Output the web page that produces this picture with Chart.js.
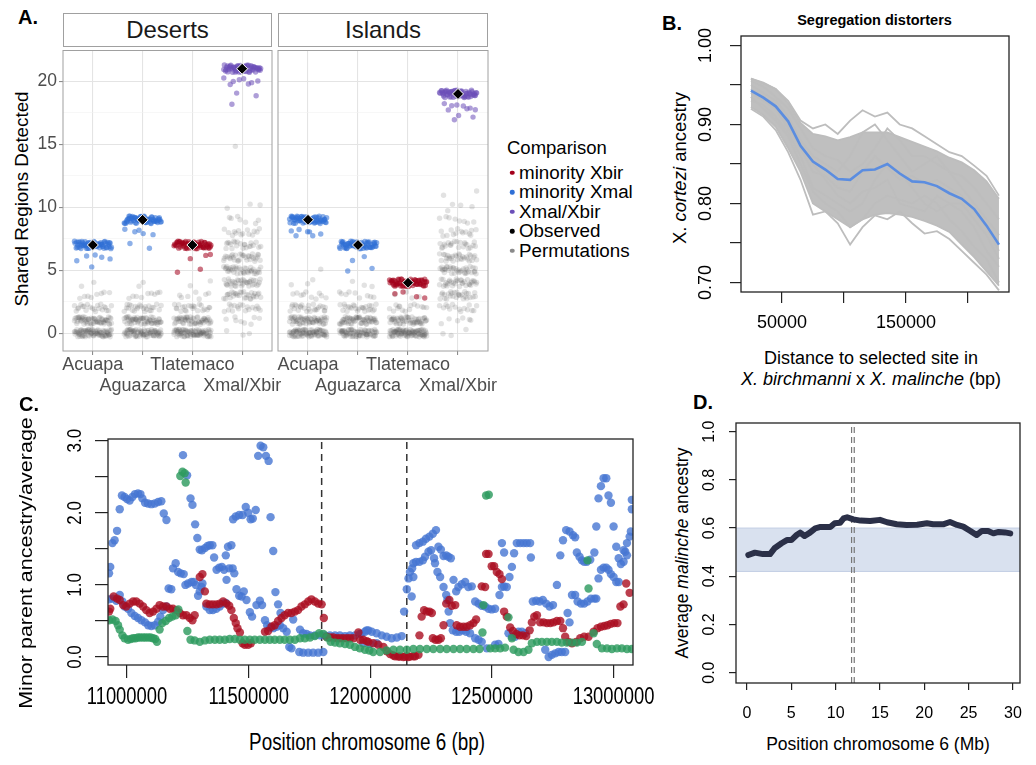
<!DOCTYPE html>
<html>
<head>
<meta charset="utf-8">
<title>Shared regions and segregation distorters</title>
<script src="https://cdn.jsdelivr.net/npm/chart.js@4.4.1/dist/chart.umd.min.js"></script>
<style>
  html, body { margin: 0; padding: 0; background: #fff; }
  body { position: relative; width: 1036px; height: 765px; overflow: hidden;
         font-family: 'Liberation Sans', Arial, Helvetica, sans-serif; color: #000; }
  canvas { position: absolute; }
  .txt { position: absolute; white-space: nowrap; line-height: 1; }
  .mid { transform: translate(-50%, -50%); }
  .lft { transform: translate(0, -50%); }
  .rot { transform: translate(-50%, -50%) rotate(-90deg); }
  .tag { font-weight: bold; font-size: 20px; }
  .strip { position: absolute; box-sizing: border-box; border: 1px solid #a0a0a0; background: #fff; }
  .dot { position: absolute; width: 4.5px; height: 4.5px; border-radius: 50%; transform: translate(-50%, -50%); }
</style>
</head>
<body>

<!-- panel A -->
<div class="txt lft tag" style="left:18px;top:17px">A.</div>
<div class="strip" style="left:63px;top:13px;width:209px;height:34px"></div>
<div class="strip" style="left:278px;top:13px;width:210px;height:34px"></div>
<div class="txt mid" style="left:167.5px;top:30px;font-size:24px;color:#1a1a1a">Deserts</div>
<div class="txt mid" style="left:383px;top:30px;font-size:24px;color:#1a1a1a">Islands</div>
<div class="txt rot" style="left:22px;top:198.5px;font-size:18.8px">Shared Regions Detected</div>
<div id="legend"></div>
<canvas id="aDeserts" width="294" height="352" style="left:0;top:44px"></canvas>
<canvas id="aIslands" width="254" height="352" style="left:256px;top:44px"></canvas>

<!-- panel B -->
<div class="txt lft tag" style="left:662px;top:23px">B.</div>
<div class="txt mid" style="left:874.5px;top:19.5px;font-size:14.5px;font-weight:bold">Segregation distorters</div>
<div class="txt rot" style="left:680px;top:168px;font-size:18.5px">X. <i>cortezi</i> ancestry</div>
<div class="txt mid" style="left:871px;top:358px;font-size:18px">Distance to selected site in</div>
<div class="txt mid" style="left:871px;top:379px;font-size:18px"><i>X. birchmanni</i> x <i>X. malinche</i> (bp)</div>
<canvas id="bChart" width="315" height="317" style="left:696px;top:20px"></canvas>

<!-- panel C -->
<div class="txt lft tag" style="left:19px;top:404px">C.</div>
<div class="txt" style="left:27px;top:563px;font-size:21.5px;transform:translate(-50%,-50%) rotate(-90deg) scaleY(0.82)">Minor parent ancestry/average</div>
<div class="txt" style="left:367px;top:742px;font-size:23px;transform:translate(-50%,-50%) scaleX(0.82)">Position chromosome 6 (bp)</div>
<canvas id="cChart" width="609" height="292" style="left:48px;top:423px"></canvas>

<!-- panel D -->
<div class="txt lft tag" style="left:693px;top:402px">D.</div>
<div class="txt rot" style="left:683px;top:553px;font-size:17.5px">Average <i>malinche</i> ancestry</div>
<div class="txt mid" style="left:878px;top:745px;font-size:17.5px">Position chromosome 6 (Mb)</div>
<canvas id="dChart" width="326" height="317" style="left:696px;top:411px"></canvas>

<script>
// ---------- A: shared regions ----------
const aCategories = ['Acuapa', 'Aguazarca', 'Tlatemaco', 'Xmal/Xbir'];
const aComparison = ['minority Xmal', 'minority Xmal', 'minority Xbir', 'Xmal/Xbir'];
const desertsObserved = [7, 9, 7, 21];
const islandsObserved = [9, 7, 4, 19];
// [regions detected, number of replicates]
const desertsReplicates = [
  [[7, 60], [6, 5], [5, 1]],
  [[9, 60], [8, 5], [7, 2]],
  [[7, 60], [6, 3], [5, 2]],
  [[21, 60], [20, 8], [19, 2], [18, 1]]
];
const islandsReplicates = [
  [[9, 60], [8, 7]],
  [[7, 60], [6, 2], [5, 2]],
  [[4, 60], [3, 4]],
  [[19, 60], [18, 8], [17, 3]]
];
const desertsPermutations = [
  [[0, 80], [1, 60], [2, 22], [3, 8], [4, 2]],
  [[0, 75], [1, 60], [2, 25], [3, 9], [4, 2]],
  [[0, 80], [1, 55], [2, 22], [3, 7], [4, 2]],
  [[0, 3], [1, 8], [2, 18], [3, 30], [4, 36], [5, 38], [6, 32], [7, 22], [8, 14], [9, 7], [10, 3], [15, 1]]
];
const islandsPermutations = [
  [[0, 80], [1, 60], [2, 25], [3, 10], [4, 3], [5, 1]],
  [[0, 75], [1, 60], [2, 25], [3, 9], [4, 3]],
  [[0, 90], [1, 55], [2, 15], [3, 4]],
  [[0, 3], [1, 6], [2, 15], [3, 28], [4, 34], [5, 36], [6, 30], [7, 22], [8, 14], [9, 8], [10, 4], [11, 2]]
];
// hand-typed jitter offsets (fraction of the jitter width)
const jitterX = [0.12, -0.85, 0.47, -0.33, 0.91, -0.06, 0.64, -0.72, 0.28, -0.51,
  0.79, -0.19, 0.03, -0.94, 0.55, -0.41, 0.36, -0.67, 0.86, -0.24,
  0.18, -0.58, 0.71, -0.11, 0.95, -0.79, 0.42, -0.36, 0.60, -0.02,
  0.25, -0.88, 0.67, -0.47, 0.08, -0.63, 0.83, -0.15, 0.50, -0.97,
  0.33, -0.29, 0.74, -0.54, 0.14, -0.76, 0.98, -0.44, 0.59, -0.09,
  0.21, -0.69, 0.45, -0.26, 0.88, -0.60, 0.05, -0.82, 0.38, -0.38];
const jitterY = [-0.42, 0.77, 0.15, -0.90, 0.53, -0.18, 0.96, -0.61, 0.30, -0.05,
  0.68, -0.83, 0.09, 0.44, -0.35, 0.87, -0.71, 0.22, -0.49, 0.61,
  -0.12, 0.92, -0.66, 0.37, -0.97, 0.02, 0.58, -0.28, 0.81, -0.54,
  0.26, -0.79, 0.49, -0.23, 0.73, -0.94, 0.11, 0.65, -0.40, 0.99,
  -0.07, 0.33, -0.74, 0.56, -0.31, 0.84, -0.59, 0.19, -0.87, 0.40];
const aXTicks = [1, 2, 3, 4];
const aYTicks = [0, 2.5, 5, 7.5, 10, 12.5, 15, 17.5, 20];
const legendLabels = ['minority Xbir', 'minority Xmal', 'Xmal/Xbir', 'Observed', 'Permutations'];
const legendColors = ['#a3001b', '#2f6fd6', '#6b4fb8', '#000000', '#8a8a8a'];

// ---------- B: segregation distorters ----------
const bDistance = [25000, 35000, 45000, 55000, 65000, 75000, 85000, 95000, 105000, 115000, 125000,
  135000, 145000, 155000, 165000, 175000, 185000, 195000, 205000, 215000, 225000];
const bObserved = [0.943, 0.934, 0.923, 0.904, 0.873, 0.853, 0.843, 0.831, 0.830, 0.842, 0.843,
  0.850, 0.838, 0.828, 0.827, 0.822, 0.813, 0.806, 0.793, 0.772, 0.748];
const bPermHigh = [0.958, 0.953, 0.945, 0.927, 0.902, 0.888, 0.885, 0.880, 0.884, 0.890, 0.890,
  0.890, 0.884, 0.878, 0.872, 0.866, 0.858, 0.852, 0.842, 0.828, 0.806];
const bPermLow = [0.922, 0.912, 0.897, 0.870, 0.840, 0.800, 0.790, 0.780, 0.770, 0.780, 0.786,
  0.788, 0.786, 0.783, 0.778, 0.772, 0.764, 0.748, 0.732, 0.714, 0.696];
const bPermutations = [
  [0.958, 0.952, 0.945, 0.930, 0.905, 0.895, 0.900, 0.888, 0.905, 0.918, 0.910, 0.915, 0.900, 0.895, 0.885, 0.875, 0.865, 0.860, 0.848, 0.835, 0.810],
  [0.920, 0.910, 0.893, 0.865, 0.830, 0.786, 0.790, 0.775, 0.748, 0.770, 0.785, 0.780, 0.790, 0.775, 0.762, 0.765, 0.755, 0.740, 0.725, 0.710, 0.690],
  [0.950, 0.940, 0.930, 0.910, 0.880, 0.860, 0.850, 0.840, 0.860, 0.890, 0.900, 0.880, 0.860, 0.840, 0.850, 0.860, 0.840, 0.820, 0.800, 0.780, 0.760],
  [0.930, 0.925, 0.910, 0.890, 0.860, 0.820, 0.810, 0.800, 0.790, 0.800, 0.830, 0.850, 0.840, 0.820, 0.800, 0.790, 0.800, 0.790, 0.770, 0.740, 0.720],
  [0.945, 0.935, 0.925, 0.900, 0.870, 0.840, 0.835, 0.820, 0.815, 0.840, 0.860, 0.845, 0.830, 0.835, 0.825, 0.830, 0.820, 0.810, 0.790, 0.770, 0.740],
  [0.955, 0.948, 0.935, 0.920, 0.895, 0.870, 0.860, 0.855, 0.840, 0.850, 0.870, 0.895, 0.880, 0.860, 0.860, 0.850, 0.840, 0.835, 0.820, 0.800, 0.780],
  [0.935, 0.920, 0.905, 0.885, 0.850, 0.815, 0.800, 0.790, 0.770, 0.780, 0.800, 0.810, 0.805, 0.800, 0.810, 0.800, 0.780, 0.765, 0.745, 0.730, 0.700],
  [0.940, 0.930, 0.920, 0.895, 0.875, 0.850, 0.830, 0.810, 0.800, 0.815, 0.820, 0.830, 0.800, 0.795, 0.790, 0.810, 0.800, 0.800, 0.780, 0.760, 0.730]
];
const bXTicks = [50000, 100000, 150000, 200000];
const bXLabelled = [50000, 150000];
const bYTicks = [0.70, 0.75, 0.80, 0.85, 0.90, 0.95, 1.00];
const bYLabelled = [0.70, 0.80, 0.90, 1.00];

// ---------- C: minor parent ancestry (position in kb, ratio) ----------
const cXmal = [
  [10926, 1.16], [10926, 0.80], [10931, 1.25], [10940, 1.58], [10940, 0.81], [10949, 1.62], [10956, 0.78], [10959, 1.75],
  [10970, 2.05], [10970, 0.86], [10979, 2.24], [10981, 0.77], [10990, 2.22], [10990, 0.70], [11000, 2.19], [11004, 0.67],
  [11011, 2.17], [11018, 0.61], [11022, 2.22], [11032, 0.57], [11033, 2.26], [11045, 2.27], [11045, 0.54], [11055, 2.26],
  [11059, 0.51], [11063, 2.20], [11074, 2.14], [11074, 0.48], [11086, 2.13], [11087, 0.44], [11100, 2.12], [11100, 0.43],
  [11114, 2.13], [11114, 0.44], [11128, 2.15], [11128, 0.49], [11137, 0.56], [11141, 2.16], [11148, 0.65], [11151, 1.99],
  [11162, 1.90], [11162, 0.70], [11171, 0.95], [11182, 0.94], [11189, 1.23], [11200, 1.30], [11210, 1.18], [11221, 1.16],
  [11230, 2.80], [11233, 1.15], [11240, 1.00], [11247, 2.52], [11251, 1.02], [11261, 2.20], [11265, 1.04], [11269, 2.11],
  [11274, 1.04], [11280, 1.84], [11283, 1.00], [11289, 1.65], [11292, 0.85], [11299, 1.49], [11299, 0.91], [11306, 0.97],
  [11308, 1.48], [11310, 1.02], [11320, 1.51], [11326, 0.70], [11331, 1.54], [11340, 1.55], [11340, 0.65], [11351, 1.55],
  [11353, 0.65], [11358, 1.38], [11367, 0.67], [11368, 1.21], [11379, 1.24], [11381, 0.70], [11390, 1.25], [11395, 0.74],
  [11399, 1.21], [11406, 1.41], [11406, 0.75], [11409, 1.07], [11415, 1.53], [11420, 1.23], [11429, 1.55], [11434, 1.23],
  [11436, 1.91], [11441, 1.16], [11447, 1.95], [11450, 0.94], [11461, 1.97], [11461, 0.85], [11471, 0.84], [11475, 1.97],
  [11480, 0.91], [11488, 2.08], [11491, 0.79], [11498, 2.00], [11505, 0.62], [11508, 1.91], [11514, 0.56], [11517, 1.92],
  [11529, 2.04], [11532, 0.72], [11539, 2.79], [11546, 0.78], [11549, 2.93], [11555, 0.72], [11560, 2.91], [11567, 0.51],
  [11571, 2.79], [11576, 0.44], [11582, 2.72], [11587, 0.41], [11590, 1.94], [11601, 1.47], [11601, 0.40], [11610, 0.90],
  [11615, 0.42], [11621, 0.73], [11628, 0.44], [11631, 0.61], [11642, 0.40], [11656, 0.35], [11667, 0.14], [11676, 0.12],
  [11683, 0.52], [11708, 0.07], [11711, 0.38], [11724, 0.33], [11724, 0.06], [11738, 0.32], [11745, 0.06], [11752, 0.30],
  [11765, 0.06], [11772, 0.30], [11786, 0.06], [11793, 0.30], [11807, 0.07], [11813, 0.30], [11834, 0.30], [11855, 0.30],
  [11875, 0.30], [11896, 0.29], [11916, 0.30], [11937, 0.30], [11957, 0.32], [11964, 0.32], [11971, 0.19], [11978, 0.35],
  [11985, 0.37], [11992, 0.37], [11999, 0.18], [12006, 0.35], [12026, 0.33], [12026, 0.19], [12047, 0.30], [12067, 0.28],
  [12088, 0.26], [12109, 0.27], [12129, 0.29], [12139, 0.63], [12150, 0.94], [12157, 1.09], [12163, 1.18], [12170, 0.84],
  [12172, 1.23], [12177, 1.11], [12177, 1.30], [12188, 1.32], [12188, 1.55], [12202, 1.32], [12202, 1.58], [12216, 1.34],
  [12216, 1.60], [12225, 1.39], [12229, 1.64], [12239, 1.46], [12243, 1.67], [12250, 1.48], [12257, 1.71], [12262, 1.37],
  [12266, 1.30], [12270, 1.76], [12276, 1.18], [12280, 1.53], [12287, 1.11], [12290, 1.49], [12301, 0.97], [12301, 1.40],
  [12312, 0.86], [12312, 1.41], [12317, 0.79], [12321, 1.39], [12322, 0.63], [12328, 0.47], [12331, 1.37], [12339, 0.37],
  [12342, 1.07], [12353, 0.91], [12353, 0.35], [12362, 0.97], [12366, 0.35], [12376, 1.01], [12380, 0.37], [12390, 1.04],
  [12394, 0.35], [12403, 0.97], [12410, 0.33], [12417, 0.98], [12431, 0.26], [12431, 0.77], [12445, 0.24], [12445, 0.74],
  [12458, 0.21], [12458, 0.71], [12472, 0.70], [12479, 0.12], [12486, 0.67], [12499, 0.66], [12513, 0.67], [12513, 0.17],
  [12527, 0.18], [12531, 0.86], [12541, 0.97], [12541, 1.58], [12550, 0.98], [12550, 1.45], [12561, 0.97], [12568, 0.33],
  [12572, 1.11], [12582, 1.25], [12582, 0.28], [12591, 1.44], [12595, 0.28], [12602, 1.58], [12609, 0.35], [12616, 1.58],
  [12623, 0.35], [12630, 1.58], [12637, 0.33], [12643, 1.58], [12657, 1.58], [12660, 1.38], [12668, 0.77], [12682, 0.78],
  [12696, 0.77], [12709, 0.79], [12719, 0.10], [12723, 0.74], [12733, 0.00], [12737, 0.70], [12746, 0.03], [12751, 0.72],
  [12760, 0.05], [12767, 1.00], [12774, 0.07], [12781, 1.41], [12787, 0.07], [12792, 1.62], [12801, 0.07], [12805, 1.76],
  [12811, 0.61], [12819, 1.74], [12819, 0.48], [12829, 0.86], [12833, 1.69], [12842, 1.66], [12842, 0.86], [12849, 1.45],
  [12852, 0.77], [12860, 1.39], [12866, 0.74], [12870, 1.34], [12879, 1.32], [12879, 0.74], [12890, 1.32], [12893, 0.77],
  [12904, 1.35], [12907, 0.81], [12921, 0.81], [12921, 1.45], [12929, 1.81], [12929, 0.81], [12938, 2.20], [12938, 1.09],
  [12948, 2.37], [12948, 1.21], [12959, 2.48], [12959, 1.24], [12970, 2.48], [12970, 1.24], [12979, 2.24], [12979, 1.21],
  [12989, 2.14], [12989, 1.15], [13000, 1.81], [13000, 1.11], [13011, 1.53], [13011, 1.04], [13021, 1.37], [13021, 1.04],
  [13030, 1.29], [13041, 1.32], [13041, 1.48], [13048, 1.46], [13055, 1.58], [13055, 1.41], [13066, 1.67], [13071, 1.74],
  [13075, 2.05], [13075, 2.18]
];
const cXbir = [
  [10926, 0.63], [10931, 0.67], [10945, 0.84], [10959, 0.81], [10970, 0.79], [10984, 0.72], [10997, 0.70], [11011, 0.74],
  [11025, 0.77], [11038, 0.77], [11052, 0.74], [11066, 0.70], [11079, 0.65], [11093, 0.61], [11107, 0.63], [11121, 0.67],
  [11134, 0.72], [11148, 0.70], [11162, 0.70], [11176, 0.67], [11189, 0.67], [11203, 0.65], [11217, 0.61], [11230, 0.58],
  [11244, 0.58], [11258, 0.54], [11269, 0.51], [11278, 0.58], [11299, 1.11], [11310, 1.15], [11320, 0.91], [11326, 0.74],
  [11340, 0.73], [11353, 0.73], [11367, 0.73], [11381, 0.74], [11395, 0.77], [11409, 0.74], [11420, 0.71], [11429, 0.65],
  [11439, 0.54], [11447, 0.47], [11454, 0.40], [11464, 0.34], [11475, 0.19], [11484, 0.17], [11498, 0.17], [11509, 0.19],
  [11567, 0.35], [11580, 0.36], [11594, 0.42], [11607, 0.44], [11621, 0.50], [11635, 0.54], [11648, 0.58], [11662, 0.61],
  [11676, 0.61], [11690, 0.63], [11703, 0.65], [11717, 0.70], [11731, 0.73], [11745, 0.77], [11758, 0.80], [11772, 0.77],
  [11786, 0.74], [11800, 0.73], [11809, 0.54], [11820, 0.28], [11834, 0.27], [11848, 0.27], [11862, 0.26], [11875, 0.26],
  [11889, 0.26], [11903, 0.26], [11916, 0.26], [11930, 0.26], [11951, 0.34], [11958, 0.24], [11971, 0.24], [11985, 0.22],
  [11992, 0.21], [12012, 0.19], [12033, 0.17], [12054, 0.14], [12068, 0.08], [12081, 0.04], [12095, 0.02], [12102, 0.01],
  [12115, 0.005], [12122, 0.005], [12136, 0.0], [12143, 0.005], [12156, 0.0], [12163, 0.005], [12177, 0.01], [12184, 0.01],
  [12198, 0.03], [12202, 0.30], [12211, 0.56], [12221, 0.65], [12232, 0.63], [12243, 0.63], [12253, 0.61], [12257, 0.26],
  [12268, 0.24], [12280, 0.24], [12290, 0.26], [12301, 0.44], [12312, 0.74], [12325, 0.79], [12335, 0.71], [12349, 0.72],
  [12355, 0.44], [12369, 0.42], [12383, 0.42], [12396, 0.42], [12410, 0.44], [12424, 0.47], [12435, 0.52], [12458, 0.98],
  [12472, 0.97], [12476, 1.43], [12486, 1.43], [12499, 1.26], [12509, 1.26], [12520, 1.18], [12531, 1.15], [12541, 1.08],
  [12550, 0.63], [12561, 0.56], [12575, 0.41], [12586, 0.36], [12600, 0.32], [12613, 0.30], [12627, 0.30], [12641, 0.29],
  [12655, 0.37], [12664, 0.48], [12674, 0.56], [12685, 0.58], [12698, 0.48], [12712, 0.48], [12726, 0.47], [12740, 0.47],
  [12753, 0.48], [12767, 0.50], [12781, 0.50], [12792, 0.40], [12801, 0.28], [12815, 0.21], [12829, 0.19], [12846, 0.21],
  [12863, 0.26], [12879, 0.28], [12897, 0.28], [12918, 0.35], [12934, 0.40], [12948, 0.42], [12962, 0.43], [12975, 0.44],
  [12989, 0.46], [13003, 0.47], [13016, 0.47], [13028, 0.70], [13041, 0.73], [13052, 1.02], [13066, 0.89]
];
const cCortezi = [
  [10926, 0.51], [10940, 0.52], [10953, 0.50], [10963, 0.44], [10970, 0.38], [10981, 0.30], [10990, 0.26], [11004, 0.24],
  [11015, 0.25], [11025, 0.26], [11035, 0.26], [11045, 0.27], [11055, 0.27], [11066, 0.27], [11076, 0.27], [11087, 0.27],
  [11097, 0.27], [11107, 0.26], [11116, 0.25], [11123, 0.21], [11134, 0.38], [11145, 0.47], [11159, 0.50], [11173, 0.54],
  [11186, 0.56], [11200, 0.58], [11211, 0.66], [11219, 2.51], [11228, 2.57], [11237, 2.55], [11241, 2.42], [11248, 0.36],
  [11261, 0.24], [11278, 0.23], [11299, 0.21], [11320, 0.23], [11340, 0.24], [11361, 0.24], [11381, 0.24], [11402, 0.24],
  [11422, 0.25], [11443, 0.25], [11464, 0.24], [11484, 0.24], [11505, 0.24], [11525, 0.24], [11546, 0.24], [11567, 0.24],
  [11587, 0.24], [11607, 0.24], [11628, 0.24], [11648, 0.24], [11669, 0.24], [11690, 0.24], [11711, 0.26], [11731, 0.26],
  [11752, 0.27], [11772, 0.29], [11790, 0.33], [11807, 0.32], [11823, 0.27], [11837, 0.21], [11855, 0.20], [11875, 0.19],
  [11896, 0.18], [11916, 0.17], [11937, 0.14], [11957, 0.12], [11978, 0.10], [11996, 0.09], [12012, 0.07], [12040, 0.07],
  [12067, 0.09], [12095, 0.10], [12122, 0.10], [12150, 0.10], [12177, 0.11], [12204, 0.11], [12232, 0.11], [12259, 0.11],
  [12287, 0.11], [12314, 0.11], [12342, 0.11], [12369, 0.11], [12396, 0.11], [12424, 0.11], [12449, 0.11], [12461, 0.34],
  [12465, 0.72], [12476, 2.24], [12487, 2.25], [12493, 0.12], [12513, 0.12], [12534, 0.12], [12554, 0.13], [12568, 0.55],
  [12582, 0.26], [12589, 0.10], [12609, 0.07], [12630, 0.07], [12650, 0.10], [12664, 0.19], [12685, 0.21], [12705, 0.21],
  [12726, 0.21], [12746, 0.21], [12767, 0.21], [12787, 0.20], [12808, 0.20], [12829, 0.20], [12849, 0.20], [12870, 0.21],
  [12893, 1.34], [12897, 0.95], [12918, 0.33], [12931, 0.18], [12952, 0.12], [12973, 0.12], [12993, 0.11], [13014, 0.12],
  [13034, 0.12], [13055, 0.11], [13075, 0.11]
];
const cRegionKb = [11800, 12150];
const cXTicks = [11000, 11500, 12000, 12500, 13000];
const cYTicks = [0, 0.5, 1, 1.5, 2, 2.5, 3];
const cYLabelled = [0, 1, 2, 3];

// ---------- D: average malinche ancestry along chromosome 6 ----------
const dPosition = [0.15, 0.9, 1.8, 2.6, 3.1, 3.9, 4.5, 5.0, 5.6, 6.0, 6.5, 7.1, 7.7, 8.2, 8.8, 9.4, 9.9, 10.5, 10.9, 11.3,
  12.0, 12.8, 13.9, 15.0, 15.8, 16.9, 18.0, 19.2, 20.3, 21.0, 22.2, 22.9, 23.7, 24.4, 25.2, 25.9, 26.5, 27.2, 27.8, 28.4,
  29.1, 29.7];
const dAncestry = [0.488, 0.498, 0.492, 0.492, 0.516, 0.537, 0.550, 0.550, 0.571, 0.581, 0.567, 0.581, 0.599, 0.604, 0.604,
  0.604, 0.620, 0.622, 0.640, 0.645, 0.636, 0.631, 0.629, 0.634, 0.624, 0.616, 0.613, 0.614, 0.620, 0.616, 0.616, 0.625,
  0.613, 0.606, 0.588, 0.571, 0.588, 0.588, 0.578, 0.584, 0.582, 0.578];
const dGenomeRange = [0.42, 0.60];
const dRegionMb = [11.8, 12.1];
const dXTicks = [0, 5, 10, 15, 20, 25, 30];
const dYTicks = [0, 0.2, 0.4, 0.6, 0.8, 1.0];

// axis limits
const aXRange = [0.4, 4.6], aYRange = [-1.42, 22.45];
const bXRange = [17000, 233100], bYRange = [0.688, 1.012];
const cXRange = [10921.8, 13079.8], cYRange = [-0.111, 3.024];
const dXRange = [-1.24, 30.8], dYRange = [-0.043, 1.036];

const SANS = "'Liberation Sans', Arial, sans-serif";
Chart.defaults.font.family = SANS;
Chart.defaults.color = '#000';

// fixes the axis box so the plot area lands where the figure has it
function fixSize(w, h) {
  return function (s) {
    if (w !== null) s.width = w;
    if (h !== null) s.height = h;
    s.paddingLeft = s.paddingRight = s.paddingTop = s.paddingBottom = 0;
  };
}
const setTicks = values => s => { s.ticks = values.map(v => ({ value: v })); };
const near = (list, v) => list.some(t => Math.abs(t - v) < 1e-9);

// box around the plotting region
const framePlugin = {
  id: 'frame',
  afterDraw(chart, args, opts) {
    const a = chart.chartArea, ctx = chart.ctx;
    ctx.save();
    ctx.strokeStyle = opts.color;
    ctx.lineWidth = opts.width;
    ctx.strokeRect(a.left, a.top, a.right - a.left, a.bottom - a.top);
    ctx.restore();
  }
};

// base R style tick text: y labels parallel to the axis, x labels optionally squeezed
const tickText = {
  id: 'tickText',
  afterDraw(chart, args, opts) {
    const ctx = chart.ctx, area = chart.chartArea;
    ctx.save();
    ctx.fillStyle = '#000';
    ctx.textAlign = 'center';
    ctx.textBaseline = 'middle';
    if (opts.yFont) {
      const s = chart.scales.y;
      ctx.font = opts.yFont;
      s.ticks.forEach((t, i) => {
        if (!t.label) return;
        ctx.save();
        ctx.translate(area.left - opts.yOffset, s.getPixelForTick(i));
        ctx.rotate(-Math.PI / 2);
        ctx.scale(1, opts.yScale || 1);
        ctx.fillText(t.label, 0, 0);
        ctx.restore();
      });
    }
    if (opts.xFont) {
      const s = chart.scales.x;
      ctx.font = opts.xFont;
      s.ticks.forEach((t, i) => {
        if (!t.label) return;
        ctx.save();
        ctx.translate(s.getPixelForTick(i), area.bottom + opts.xOffset);
        ctx.scale(opts.xScale || 1, 1);
        ctx.fillText(t.label, 0, 0);
        ctx.restore();
      });
    }
    ctx.restore();
  }
};

function baseOptions(scales, plugins, padTop, padRight) {
  return {
    responsive: false,
    animation: false,
    events: [],
    layout: { padding: { top: padTop, right: padRight || 2, left: 0, bottom: 0 } },
    scales: scales,
    plugins: Object.assign({ legend: { display: false }, tooltip: { enabled: false } }, plugins)
  };
}

function rAxis(range, ticks, w, h, tick, pad, font, label, hideText) {
  return {
    type: 'linear', min: range[0], max: range[1],
    afterFit: fixSize(w, h),
    afterBuildTicks: setTicks(ticks),
    border: { display: false },
    grid: { drawOnChartArea: false, drawTicks: true, tickLength: tick, tickColor: '#222', lineWidth: 1.2 },
    ticks: {
      autoSkip: false, maxRotation: 0, minRotation: 0,
      padding: pad, font: font, color: hideText ? 'rgba(0,0,0,0)' : '#000', callback: label
    }
  };
}

// ---------- panel A ----------
function jitter(counts, c, shift) {
  const pts = [];
  let i = 0;
  counts.forEach(([v, n]) => {
    for (let k = 0; k < n; k++, i++) {
      pts.push({
        x: c + 1 + jitterX[(i + shift) % jitterX.length] * 0.38,
        y: v + jitterY[(i + shift * 3) % jitterY.length] * 0.3
      });
    }
  });
  return pts;
}

const compColors = {
  'minority Xbir': 'rgba(163,0,27,0.55)',
  'minority Xmal': 'rgba(47,111,214,0.55)',
  'Xmal/Xbir': 'rgba(107,79,184,0.55)'
};

function facetChart(id, observed, replicates, permutations, leftPanel, shift) {
  const datasets = [{
    data: observed.map((v, i) => ({ x: i + 1, y: v })),
    pointStyle: 'rectRot', pointRadius: 5.5, backgroundColor: '#000', borderColor: '#fff', borderWidth: 1
  }];
  replicates.forEach((counts, c) => {
    datasets.push({
      data: jitter(counts, c, c * 11 + shift),
      pointRadius: 2.7, borderWidth: 0, backgroundColor: compColors[aComparison[c]]
    });
  });
  const perm = [];
  permutations.forEach((counts, c) => perm.push(...jitter(counts, c, c * 17 + shift + 5)));
  datasets.push({ data: perm, pointRadius: 2.7, borderWidth: 0, backgroundColor: 'rgba(85,85,85,0.17)' });

  const major = v => v % 5 === 0;
  const scales = {
    x: {
      type: 'linear', min: aXRange[0], max: aXRange[1],
      afterFit: fixSize(null, 45),
      afterBuildTicks: setTicks(aXTicks),
      border: { display: false },
      grid: { color: '#e4e4e4', lineWidth: 1.1, tickLength: 4, tickColor: '#8c8c8c' },
      ticks: {
        autoSkip: false, maxRotation: 0, minRotation: 0, padding: 0,
        color: '#4d4d4d', font: { size: 18, lineHeight: 1.15 },
        callback: (v, i) => i % 2 === 0 ? aCategories[v - 1] : ['', aCategories[v - 1]]
      }
    },
    y: {
      type: 'linear', min: aYRange[0], max: aYRange[1],
      afterFit: fixSize(leftPanel ? 63 : 22, null),
      afterBuildTicks: setTicks(aYTicks),
      border: { display: false },
      grid: {
        color: c => major(c.tick.value) ? '#e4e4e4' : '#f2f2f2',
        lineWidth: c => major(c.tick.value) ? 1.1 : 0.6,
        drawTicks: leftPanel, tickLength: 4,
        tickColor: c => major(c.tick.value) ? '#8c8c8c' : 'rgba(0,0,0,0)'
      },
      ticks: {
        display: leftPanel, padding: 2,
        color: '#4d4d4d', font: { size: 17.5 },
        callback: v => major(v) ? String(v) : ''
      }
    }
  };
  const opts = baseOptions(scales, { frame: { color: '#a0a0a0', width: 1 } }, 2, 22);
  new Chart(document.getElementById(id), {
    type: 'scatter', data: { datasets }, options: opts, plugins: [framePlugin]
  });
}

facetChart('aDeserts', desertsObserved, desertsReplicates, desertsPermutations, true, 0);
facetChart('aIslands', islandsObserved, islandsReplicates, islandsPermutations, false, 29);

// legend of panel A
(function () {
  let html = '<div class="txt lft" style="left:507px;top:148px;font-size:18.5px">Comparison</div>';
  legendLabels.forEach((lab, i) => {
    const y = 172.7 + i * 19.5;
    html += '<div class="dot" style="left:512px;top:' + y + 'px;background:' + legendColors[i] + '"></div>';
    html += '<div class="txt lft" style="left:519px;top:' + y + 'px;font-size:18.8px">' + lab + '</div>';
  });
  document.getElementById('legend').innerHTML = html;
})();

// ---------- panel B ----------
(function () {
  const toXY = ys => ys.map((y, i) => ({ x: bDistance[i], y: y }));
  const datasets = [{
    data: toXY(bObserved), showLine: true, borderColor: '#5b8de0', borderWidth: 2.6, pointRadius: 0
  }];
  bPermutations.forEach(p => datasets.push({
    data: toXY(p), showLine: true, borderColor: '#bdbdbd', borderWidth: 1.8, pointRadius: 0
  }));
  datasets.push({ data: toXY(bPermLow), showLine: true, borderColor: '#bdbdbd', borderWidth: 1.8, pointRadius: 0 });
  datasets.push({
    data: toXY(bPermHigh), showLine: true, borderColor: '#bdbdbd', borderWidth: 1.8, pointRadius: 0,
    fill: '-1', backgroundColor: '#bfbfbf'
  });
  const scales = {
    x: rAxis(bXRange, bXTicks, null, 45, 11, 9, { size: 18 },
      v => near(bXLabelled, v) ? String(v) : ''),
    y: rAxis(bYRange, bYTicks, 45, null, 11, 0, { size: 18 },
      v => near(bYLabelled, v) ? v.toFixed(2) : '', true)
  };
  new Chart(document.getElementById('bChart'), {
    type: 'scatter', data: { datasets },
    options: baseOptions(scales, {
      frame: { color: '#222', width: 1.3 },
      tickText: { yFont: '18px ' + SANS, yOffset: 35 }
    }, 16),
    plugins: [framePlugin, tickText]
  });
})();

// ---------- panel C ----------
(function () {
  const pts = arr => arr.map(p => ({ x: p[0], y: p[1] }));
  const dashed = cRegionKb.map(x => ({
    data: [{ x: x, y: cYRange[0] }, { x: x, y: cYRange[1] }], showLine: true,
    borderColor: '#333', borderWidth: 1.5, borderDash: [7, 5], pointRadius: 0
  }));
  const datasets = [
    { data: pts(cCortezi), pointRadius: 4.2, borderWidth: 0, backgroundColor: 'rgba(46,155,95,0.82)' },
    { data: pts(cXbir), pointRadius: 4.2, borderWidth: 0, backgroundColor: 'rgba(170,14,32,0.8)' },
    { data: pts(cXmal), pointRadius: 4.2, borderWidth: 0, backgroundColor: 'rgba(70,118,210,0.8)' }
  ].concat(dashed);
  const scales = {
    x: rAxis(cXRange, cXTicks, null, 50, 13, 6, { size: 23 }, v => String(v * 1000), true),
    y: rAxis(cYRange, cYTicks, 60, null, 13, 0, { size: 17 },
      v => near(cYLabelled, v) ? v.toFixed(1) : '', true)
  };
  new Chart(document.getElementById('cChart'), {
    type: 'scatter', data: { datasets },
    options: baseOptions(scales, {
      frame: { color: '#222', width: 1.3 },
      tickText: { yFont: '17px ' + SANS, yOffset: 32, yScale: 1.15, xFont: '23px ' + SANS, xOffset: 33, xScale: 0.8 }
    }, 16, 24),
    plugins: [framePlugin, tickText]
  });
})();

// ---------- panel D ----------
(function () {
  const line = dPosition.map((x, i) => ({ x: x, y: dAncestry[i] }));
  const dashed = dRegionMb.map(x => ({
    data: [{ x: x, y: dYRange[0] }, { x: x, y: dYRange[1] }], showLine: true,
    borderColor: '#777', borderWidth: 1.2, borderDash: [6, 4], pointRadius: 0
  }));
  const datasets = [
    { data: line, showLine: true, borderColor: '#2b3048', borderWidth: 6, pointRadius: 0,
      borderJoinStyle: 'round', borderCapStyle: 'round' }
  ].concat(dashed, [
    { data: dXRange.map(x => ({ x: x, y: dGenomeRange[0] })), showLine: true,
      borderColor: '#c3cfe4', borderWidth: 1, pointRadius: 0 },
    { data: dXRange.map(x => ({ x: x, y: dGenomeRange[1] })), showLine: true,
      borderColor: '#c3cfe4', borderWidth: 1, pointRadius: 0, fill: '-1', backgroundColor: '#d9e1ef' }
  ]);
  const scales = {
    x: rAxis(dXRange, dXTicks, null, 45, 7, 14, { size: 16 }, v => String(v)),
    y: rAxis(dYRange, dYTicks, 40, null, 7, 0, { size: 16 }, v => v.toFixed(1), true)
  };
  new Chart(document.getElementById('dChart'), {
    type: 'scatter', data: { datasets },
    options: baseOptions(scales, {
      frame: { color: '#222', width: 1.3 },
      tickText: { yFont: '16px ' + SANS, yOffset: 26 }
    }, 12),
    plugins: [framePlugin, tickText]
  });
})();
</script>
</body>
</html>
